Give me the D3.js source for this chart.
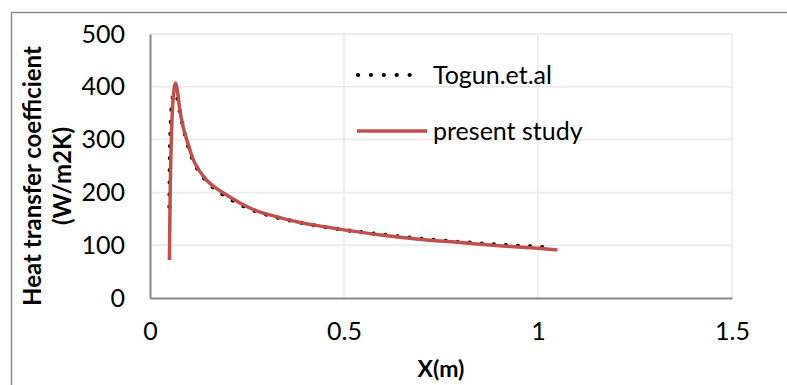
<!DOCTYPE html>
<html>
<head>
<meta charset="utf-8">
<script src="https://cdn.jsdelivr.net/npm/d3@7"></script>
<style>
  body { margin: 0; background: #fff; }
  text { font-family: Lato, "Liberation Sans", sans-serif; fill: #000; }
</style>
</head>
<body>
<div id="chart"></div>
<script>
// values
const togunX = [0.050, 0.051, 0.053, 0.057, 0.063, 0.068, 0.075, 0.085, 0.095, 0.11, 0.13, 0.15, 0.18, 0.22, 0.27, 0.32, 0.40, 0.50, 0.60, 0.70, 0.80, 0.90, 1.02];
const togunY = [173, 250, 320, 370, 388, 385, 360, 325, 296, 262, 236, 218, 200, 182, 165, 154, 141, 129, 120, 112, 106, 101, 96];

const studyX = [0.050, 0.052, 0.055, 0.058, 0.062, 0.066, 0.070, 0.077, 0.085, 0.095, 0.112, 0.13, 0.146, 0.17, 0.189, 0.232, 0.275, 0.32, 0.387, 0.45, 0.50, 0.60, 0.70, 0.80, 0.90, 1.00, 1.05];
const studyY = [72, 200, 300, 360, 395, 407, 395, 356, 325, 299, 261, 238, 223, 208, 199, 180, 165, 155, 143, 135, 129, 119, 111, 105, 99, 94, 91];

const xTicks = [0, 0.5, 1, 1.5];
const yTicks = [0, 100, 200, 300, 400, 500];
const legendNames = ["Togun.et.al", "present study"];

const W = 787, H = 385;
const plot = {left: 150, right: 732, top: 34, bottom: 298};

const svg = d3.select("#chart").append("svg")
    .attr("width", W)
    .attr("height", H);

// chart frame
svg.append("rect")
    .attr("x", 11.5).attr("y", 12.5)
    .attr("width", W).attr("height", H)
    .attr("fill", "none")
    .attr("stroke", "#8c8c8c")
    .attr("stroke-width", 1.5);

const x = d3.scaleLinear().domain([0, 1.5]).range([plot.left, plot.right]);
const y = d3.scaleLinear().domain([0, 500]).range([plot.bottom, plot.top]);

// gridlines
svg.append("g").selectAll("line.hgrid")
    .data(yTicks.filter(d => d > 0))
    .enter().append("line")
    .attr("x1", plot.left).attr("x2", plot.right)
    .attr("y1", d => y(d)).attr("y2", d => y(d))
    .attr("stroke", "#e8e8e8").attr("stroke-width", 1.5);

svg.append("g").selectAll("line.vgrid")
    .data(xTicks.filter(d => d > 0))
    .enter().append("line")
    .attr("x1", d => x(d)).attr("x2", d => x(d))
    .attr("y1", plot.top).attr("y2", plot.bottom)
    .attr("stroke", "#e8e8e8").attr("stroke-width", 1.5);

// axes
const xAxis = svg.append("g")
    .attr("transform", `translate(0,${plot.bottom})`)
    .call(d3.axisBottom(x).tickValues(xTicks).tickSize(0).tickPadding(24).tickFormat(d3.format("")));
const yAxis = svg.append("g")
    .attr("transform", `translate(${plot.left},0)`)
    .call(d3.axisLeft(y).tickValues(yTicks).tickSize(0).tickPadding(25));

[xAxis, yAxis].forEach(a => {
    a.select(".domain").attr("stroke", "#868686").attr("stroke-width", 2);
    a.selectAll("text").style("font-size", "25px").attr("fill", "#000");
});

// titles
svg.append("text")
    .attr("x", (plot.left + plot.right) / 2).attr("y", 377)
    .attr("text-anchor", "middle")
    .style("font-size", "23px").style("font-weight", "bold")
    .text("X(m)");

const yt = svg.append("text")
    .attr("transform", "translate(41,176) rotate(-90)")
    .attr("text-anchor", "middle")
    .style("font-size", "24px").style("font-weight", "bold");
yt.append("tspan").attr("x", 0).attr("dy", 0).text("Heat transfer coefficient");
yt.append("tspan").attr("x", 0).attr("dy", 30).text("(W/m2K)");

// series
const line = d3.line().x(d => x(d[0])).y(d => y(d[1])).curve(d3.curveMonotoneX);
const togun = togunX.map((v, i) => [v, togunY[i]]);
const study = studyX.map((v, i) => [v, studyY[i]]);

svg.append("path")
    .datum(togun)
    .attr("d", line)
    .attr("fill", "none")
    .attr("stroke", "#000")
    .attr("stroke-width", 4.2)
    .attr("stroke-linecap", "round")
    .attr("stroke-dasharray", "0.1 12");

svg.append("path")
    .datum(study)
    .attr("d", line)
    .attr("fill", "none")
    .attr("stroke", "#c0504d")
    .attr("stroke-width", 3.5);

// legend
const legend = svg.append("g");
legend.append("line")
    .attr("x1", 358).attr("x2", 422).attr("y1", 75).attr("y2", 75)
    .attr("stroke", "#000").attr("stroke-width", 4.2)
    .attr("stroke-linecap", "round").attr("stroke-dasharray", "0.1 12.8");
legend.append("line")
    .attr("x1", 357).attr("x2", 427).attr("y1", 131).attr("y2", 131)
    .attr("stroke", "#c0504d").attr("stroke-width", 3.5);
legend.selectAll("text")
    .data(legendNames)
    .enter().append("text")
    .attr("x", 433)
    .attr("y", (d, i) => 75 + i * 56)
    .attr("dy", "0.35em")
    .style("font-size", "25px")
    .text(d => d);
</script>
</body>
</html>
